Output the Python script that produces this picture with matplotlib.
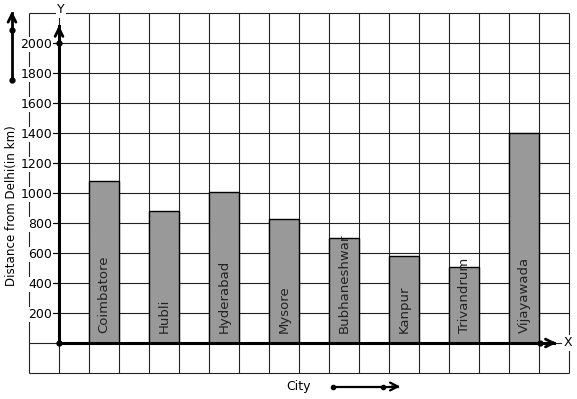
import numpy as np
import matplotlib
matplotlib.use("Agg")
import matplotlib.pyplot as plt

# data
cities = ["Coimbatore", "Hubli", "Hyderabad", "Mysore",
          "Bubhaneshwar", "Kanpur", "Trivandrum", "Vijayawada"]
distance = [1080, 880, 1005, 830, 700, 580, 505, 1400]
yticks = [200, 400, 600, 800, 1000, 1200, 1400, 1600, 1800, 2000]

plt.rcParams['font.family'] = ['DejaVu Sans']

fig = plt.figure(figsize=(5.77, 3.99), dpi=100)
ax = fig.add_axes([29 / 577, 26 / 399, 540 / 577, 360 / 399])
ax.set_xlim(-1, 17)
ax.set_ylim(-200, 2200)

# square grid, every cell 1 unit wide and 200 km high
gc = '#222222'
ax.vlines(np.arange(-1, 18), -200, 2200, color=gc, lw=0.8, zorder=0.5, clip_on=False)
ax.hlines(np.arange(-200, 2201, 200), -1, 17, color=gc, lw=0.8, zorder=0.5, clip_on=False)

# bars every second cell
xpos = np.arange(len(cities)) * 2 + 1.5
ax.bar(xpos, distance, width=1, color='#999999', edgecolor='black', lw=1, zorder=2)
for x, name in zip(xpos, cities):
    ax.text(x, 65, name, rotation=90, ha='center', va='bottom', fontsize=9.5,
            color='#222222', zorder=3)

# axes through the origin
for s in ['top', 'right']:
    ax.spines[s].set_visible(False)
ax.spines['left'].set_position(('data', 0))
ax.spines['bottom'].set_position(('data', 0))
ax.spines['left'].set_linewidth(2.2)
ax.spines['bottom'].set_linewidth(2.2)
ax.spines['left'].set_bounds(0, 2110)
ax.spines['bottom'].set_bounds(0, 16.5)
ax.set_xticks([])
ax.set_yticks(yticks)
ax.tick_params(axis='y', direction='out', length=5, width=0.8, pad=0, labelsize=9)
for lbl in ax.get_yticklabels():
    lbl.set_bbox(dict(facecolor='white', edgecolor='none', pad=0.5))

ax.annotate('', xy=(0, 2135), xytext=(0, 2050),
            arrowprops=dict(arrowstyle='->', lw=2, mutation_scale=14, color='black'),
            annotation_clip=False)
ax.annotate('', xy=(16.67, 0), xytext=(16.3, 0),
            arrowprops=dict(arrowstyle='->', lw=2, mutation_scale=14, color='black'),
            annotation_clip=False)
ax.plot([0, 0, 16.03], [0, 2000, 0], 'o', color='black', ms=3.5, zorder=4, clip_on=False)

ax.text(0.07, 2220, 'Y', ha='center', va='center', fontsize=9,
        bbox=dict(facecolor='white', edgecolor='none', pad=1), clip_on=False)
ax.text(16.97, 0, 'X', ha='center', va='center', fontsize=9,
        bbox=dict(facecolor='white', edgecolor='none', pad=1), clip_on=False)

# axis titles with their little arrows
ax.text(-1.57, 913, 'Distance from Delhi(in km)', rotation=90, ha='center', va='center',
        fontsize=8.6, clip_on=False)
ax.plot([-1.567, -1.567], [1753, 2200], color='black', lw=2, clip_on=False)
ax.plot([-1.567, -1.567], [1753, 2087], 'o', color='black', ms=3.5, clip_on=False)
ax.annotate('', xy=(-1.567, 2230), xytext=(-1.567, 2150),
            arrowprops=dict(arrowstyle='->', lw=2, mutation_scale=14, color='black'),
            annotation_clip=False)

ax.text(7.97, -287, 'City', ha='center', va='center', fontsize=9, clip_on=False)
ax.plot([9.13, 11.3], [-290, -290], color='black', lw=1.6, clip_on=False)
ax.plot([9.13, 10.8], [-290, -290], 'o', color='black', ms=3, clip_on=False)
ax.annotate('', xy=(11.47, -290), xytext=(11.0, -290),
            arrowprops=dict(arrowstyle='->', lw=1.6, mutation_scale=14, color='black'),
            annotation_clip=False)

fig.savefig('out.png', dpi=100)
